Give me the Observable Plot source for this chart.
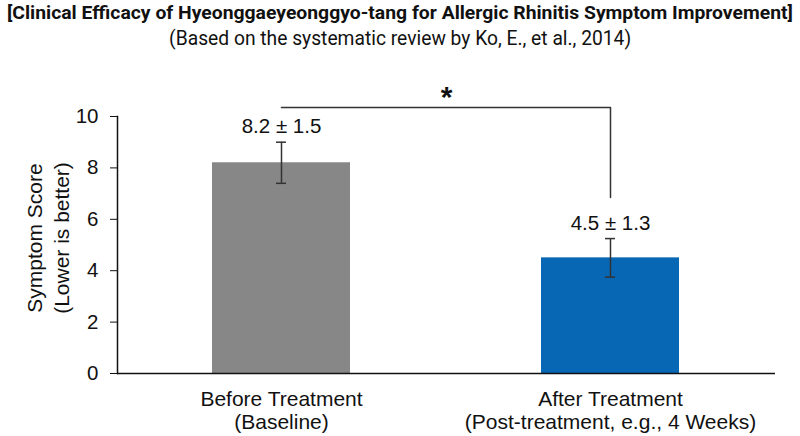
<!DOCTYPE html>
<html><head><meta charset="utf-8">
<script src="https://cdn.jsdelivr.net/npm/d3@7"></script>
<script src="https://cdn.jsdelivr.net/npm/@observablehq/plot@0.6"></script>
<style>
body{margin:0;background:#fff;width:800px;height:436px;overflow:hidden}
#header{height:62px;text-align:center;color:#111}
#title{font-family:Roboto,sans-serif;font-weight:bold;font-size:18.5px;line-height:26px;height:26px;white-space:nowrap}
#subtitle{font-family:Roboto,sans-serif;font-size:19.5px;line-height:25px;height:25px;white-space:nowrap}
.fit{display:inline-block;transform-origin:50% 50%}
</style></head><body>
<div id="header"><div id="title"><span class="fit" data-w="786"></span></div><div id="subtitle"><span class="fit" data-w="462"></span></div></div>
<div id="chart"></div>
<script>
const titleText = "[Clinical Efficacy of Hyeonggaeyeonggyo-tang for Allergic Rhinitis Symptom Improvement]";
const subtitleText = "(Based on the systematic review by Ko, E., et al., 2014)";
const categories = ["Before Treatment\n(Baseline)", "After Treatment\n(Post-treatment, e.g., 4 Weeks)"];
const means = [8.2, 4.5];
const sdLabels = [1.5, 1.3];
const errorHalf = [0.8, 0.75];
const barColors = ["#878787", "#0767b4"];
const yTicks = [0, 2, 4, 6, 8, 10];
const yLabel = "Symptom Score\n(Lower is better)";
const significance = "*";
const bracketTop = 10.35;
const bracketDrop = 6.85;
const starY = 10.75;

document.querySelector("#title .fit").textContent = titleText;
document.querySelector("#subtitle .fit").textContent = subtitleText;
document.querySelectorAll(".fit").forEach(s => {
  const w = s.getBoundingClientRect().width;
  s.style.transform = `scaleX(${(+s.dataset.w) / w})`;
});

const data = categories.map((c, i) => ({cat: c, mean: means[i], sd: sdLabels[i], err: errorHalf[i], color: barColors[i]}));
const bracket = [
  {x: categories[0], y: bracketTop},
  {x: categories[1], y: bracketTop},
  {x: categories[1], y: bracketDrop}
];

const chart = Plot.plot({
  width: 800, height: 374,
  marginLeft: 117, marginRight: 25, marginTop: 54, marginBottom: 63,
  style: {fontFamily: "'Liberation Sans', Arial, sans-serif", color: "#111", background: "white", overflow: "visible"},
  x: {domain: categories, paddingInner: 0.58, paddingOuter: 0.29, label: null},
  y: {domain: [0, 10], label: null},
  color: {type: "identity"},
  marks: [
    Plot.barY(data, {x: "cat", y: "mean", fill: "color"}),
    Plot.ruleX(data, {x: "cat", y1: d => d.mean - d.err, y2: d => d.mean + d.err, stroke: "#333", strokeWidth: 1.5}),
    Plot.tickY(data, {x: "cat", y: d => d.mean + d.err, stroke: "#333", strokeWidth: 1.5, insetLeft: 64, insetRight: 64}),
    Plot.tickY(data, {x: "cat", y: d => d.mean - d.err, stroke: "#333", strokeWidth: 1.5, insetLeft: 64, insetRight: 64}),
    Plot.text(data, {x: "cat", y: d => d.mean + d.err, text: d => `${d.mean.toFixed(1)} ± ${d.sd.toFixed(1)}`, dy: -9, lineAnchor: "bottom", fontSize: 20.5, fill: "#111"}),
    Plot.line(bracket, {x: "x", y: "y", stroke: "#333", strokeWidth: 1.5}),
    Plot.text([significance], {y: () => starY, text: d => d, fontSize: 30, fontWeight: "bold", fill: "#111"}),
    Plot.text([yLabel], {frameAnchor: "left", rotate: -90, textAnchor: "middle", lineAnchor: "middle", dx: -71, dy: -7, fontSize: 21, lineHeight: 1.3, fill: "#111"}),
    Plot.axisY({ticks: yTicks, tickSize: 7, tickPadding: 12, fontSize: 20.5, label: null, stroke: "#111"}),
    Plot.axisX({tickSize: 0, tickPadding: 17, fontSize: 21, lineHeight: 1.07, label: null}),
    Plot.ruleY([0], {stroke: "#111", strokeWidth: 1.5}),
    Plot.frame({anchor: "left", stroke: "#111", strokeWidth: 1.5})
  ]
});
document.getElementById("chart").appendChild(chart);
</script>
</body></html>
